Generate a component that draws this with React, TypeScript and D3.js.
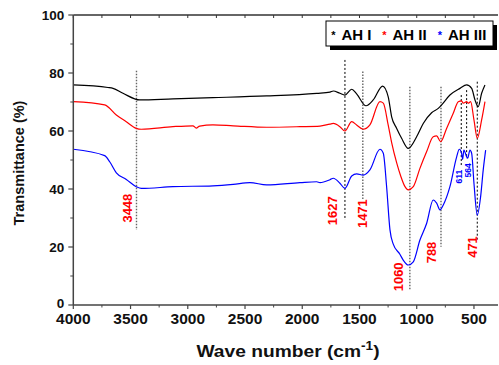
import React from "react";
import * as d3 from "d3";

// spectra as [wavenumber (cm-1), transmittance (%)]
const ah1: [number, number][] = [
  [4000, 75.9], [3697, 75.0], [3653, 74.7], [3566, 73.0], [3420, 70.7], [3129, 71.1],
  [2780, 71.5], [2311, 72.1], [1874, 73.0], [1758, 73.4], [1729, 73.8], [1671, 73.0],
  [1627, 72.4], [1568, 74.4], [1525, 72.8], [1443, 68.7], [1380, 70.7], [1298, 75.5],
  [1249, 71.8], [1219, 64.9], [1175, 60.9], [1132, 57.5], [1074, 54.0], [1001, 58.0],
  [943, 62.6], [870, 66.3], [812, 67.8], [782, 69.0], [710, 72.4], [622, 74.7],
  [564, 75.9], [520, 74.7], [491, 70.7], [463, 68.4], [433, 73.0], [404, 75.9],
];

const ah2: [number, number][] = [
  [4000, 70.1], [3726, 69.0], [3624, 65.5], [3537, 63.2], [3450, 60.9], [3406, 60.6],
  [3130, 61.5], [2955, 61.8], [2926, 61.0], [2896, 61.7], [2780, 62.1], [2603, 61.8],
  [2311, 61.3], [2020, 61.5], [1845, 61.7], [1758, 62.4], [1729, 62.6], [1671, 61.5],
  [1627, 60.0], [1568, 63.2], [1525, 62.1], [1467, 60.6], [1409, 62.1], [1321, 70.1],
  [1292, 69.6], [1249, 62.0], [1219, 56.0], [1175, 49.0], [1140, 44.5], [1105, 41.0],
  [1074, 39.7], [1030, 40.8], [972, 47.1], [913, 52.9], [856, 58.0], [826, 58.3],
  [791, 56.3], [739, 60.9], [681, 66.1], [637, 70.1], [608, 70.4], [594, 69.6],
  [564, 70.1], [550, 69.6], [529, 70.1], [500, 63.8], [471, 57.5], [433, 63.8], [404, 70.1],
];

const ah3: [number, number][] = [
  [4000, 53.7], [3726, 51.5], [3682, 49.4], [3624, 45.6], [3537, 43.3], [3450, 40.8],
  [3406, 40.2], [3130, 40.8], [2780, 41.1], [2603, 41.6], [2457, 42.2], [2311, 41.4],
  [2020, 42.2], [1874, 42.5], [1845, 42.2], [1758, 43.2], [1729, 43.7], [1671, 42.0],
  [1627, 40.2], [1568, 44.5], [1525, 45.2], [1467, 44.8], [1409, 46.6], [1321, 53.7],
  [1292, 52.3], [1263, 40.8], [1234, 26.0], [1205, 21.0], [1147, 17.5], [1118, 15.5],
  [1074, 13.8], [1030, 14.9], [972, 22.4], [913, 28.2], [856, 36.2], [826, 35.1],
  [797, 32.8], [768, 34.5], [710, 40.8], [651, 51.1], [628, 53.7], [608, 52.3],
  [599, 50.2], [588, 53.4], [564, 51.1], [555, 50.6], [535, 53.4], [520, 52.3],
  [500, 42.0], [471, 31.0], [442, 37.3], [419, 46.6], [398, 53.4],
];

const seriesNames = ["AH I", "AH II", "AH III"];
const seriesColors = ["#000000", "#ff0000", "#0000ff"];

// marked bands: wavenumber, line top/bottom (%), label centre (%)
const peakWaves = [3448, 1627, 1471, 1060, 788, 611, 564, 471];
const peakTop = [80.8, 84.5, 80.5, 75.3, 75.3, 72.4, 74.1, 77.0];
const peakBottom = [25.9, 29.3, 36.2, 5.2, 20.1, 47.7, 50.6, 22.4];
const peakLabelAt = [33.4, 32.5, 31.5, 9.7, 18.1, 44.3, 46.4, 20.0];
const peakLabelShift = [-9, -12, 0, -11, -9, -2, 1.5, -5];
const peakGray = [true, false, true, true, true, false, false, false];

const xTicks = [4000, 3500, 3000, 2500, 2000, 1500, 1000, 500];
const yTicks = [0, 20, 40, 60, 80, 100];

const font = "'Liberation Sans', Arial, sans-serif";

export default function App() {
  const left = 73.3, right = 498, top = 15, bottom = 305;
  const x = d3.scaleLinear().domain([4000, 290]).range([left, right]);
  const y = d3.scaleLinear().domain([0, 100]).range([bottom, top]);
  const line = d3
    .line<[number, number]>()
    .x((d) => x(d[0]))
    .y((d) => y(d[1]))
    .curve(d3.curveMonotoneX);

  const minorX = d3.range(3750, 400, -500);
  const allTopX = d3.range(4000, 300, -250);
  const minorY = d3.range(10, 100, 20);

  const data = [ah1, ah2, ah3];

  return (
    <svg
      width={499}
      height={365}
      style={{ position: "absolute", left: 0, top: 0, background: "#fff" }}
      fontFamily={font}
      fontWeight="bold"
    >
      {/* dotted band markers */}
      {peakWaves.map((w, i) => (
        <line
          key={"p" + w}
          x1={x(w)}
          x2={x(w)}
          y1={y(peakTop[i])}
          y2={y(peakBottom[i])}
          stroke={peakGray[i] ? "#666" : "#000"}
          strokeWidth={peakGray[i] ? 1.4 : 1}
          strokeDasharray={peakGray[i] ? "1.5,1.5" : "2,2"}
        />
      ))}

      {/* spectra */}
      {data.map((d, i) => (
        <path
          key={seriesNames[i]}
          d={line(d) || ""}
          fill="none"
          stroke={seriesColors[i]}
          strokeWidth={1.2}
        />
      ))}

      {/* band labels */}
      {peakWaves.map((w, i) => {
        const small = w === 611 || w === 564;
        const lx = x(w) + peakLabelShift[i];
        const ly = y(peakLabelAt[i]);
        return (
          <text
            key={"l" + w}
            transform={`translate(${lx},${ly}) rotate(-90)`}
            textAnchor="middle"
            dominantBaseline="central"
            fill={small ? "#0000ff" : "#ff0000"}
            fontSize={small ? 8.5 : 13}
          >
            {w}
          </text>
        );
      })}

      {/* axes */}
      <line x1={left} x2={right} y1={top} y2={top} stroke="#333" strokeWidth={1.3} />
      {allTopX.map((t) => (
        <line key={"tt" + t} x1={x(t)} x2={x(t)} y1={top} y2={top + 3} stroke="#333" strokeWidth={1} />
      ))}
      <line x1={left} x2={right} y1={bottom} y2={bottom} stroke="#444" strokeWidth={1.5} />
      <line x1={left} x2={left} y1={top} y2={bottom} stroke="#444" strokeWidth={1.5} />
      {xTicks.map((t) => (
        <g key={"xt" + t}>
          <line x1={x(t)} x2={x(t)} y1={bottom} y2={bottom + 4} stroke="#444" strokeWidth={1.2} />
          <text x={x(t)} y={bottom + 19} textAnchor="middle" fontSize={15.5} fill="#111">
            {t}
          </text>
        </g>
      ))}
      {minorX.map((t) => (
        <line key={"xm" + t} x1={x(t)} x2={x(t)} y1={bottom} y2={bottom + 2.5} stroke="#444" strokeWidth={1} />
      ))}
      {yTicks.map((t) => (
        <g key={"yt" + t}>
          <line x1={left - 5} x2={left} y1={y(t)} y2={y(t)} stroke="#444" strokeWidth={1.2} />
          <text x={left - 9} y={y(t) - (t === 0 ? 1.5 : 0)} textAnchor="end" dominantBaseline="central" fontSize={13.5} fill="#111">
            {t}
          </text>
        </g>
      ))}
      {minorY.map((t) => (
        <line key={"ym" + t} x1={left - 3} x2={left} y1={y(t)} y2={y(t)} stroke="#444" strokeWidth={1} />
      ))}

      {/* axis titles */}
      <text
        transform={`translate(19,163) rotate(-90)`}
        textAnchor="middle"
        dominantBaseline="central"
        fontSize={14.5}
        fill="#111"
      >
        Transmittance (%)
      </text>
      <g transform="translate(288,357) scale(1.13,1)">
        <text x={0} y={0} textAnchor="middle" fontSize={17} fill="#111">
          Wave number (cm
          <tspan fontSize={12} dy={-7}>-1</tspan>
          <tspan dy={7}>)</tspan>
        </text>
      </g>

      {/* legend */}
      <rect x={330} y={25} width={167} height={25} fill="#000" />
      <rect x={326} y={21} width={167} height={25} fill="#fff" stroke="#000" strokeWidth={1} />
      {seriesNames.map((n, i) => {
        const sx = [333.5, 384.5, 440][i];
        return (
          <g key={"lg" + n}>
            <text x={sx} y={39} textAnchor="middle" fontSize={11} fill={seriesColors[i]}>
              *
            </text>
            <text x={sx + 8} y={40} fontSize={15} fill="#000">
              {n}
            </text>
          </g>
        );
      })}
    </svg>
  );
}
